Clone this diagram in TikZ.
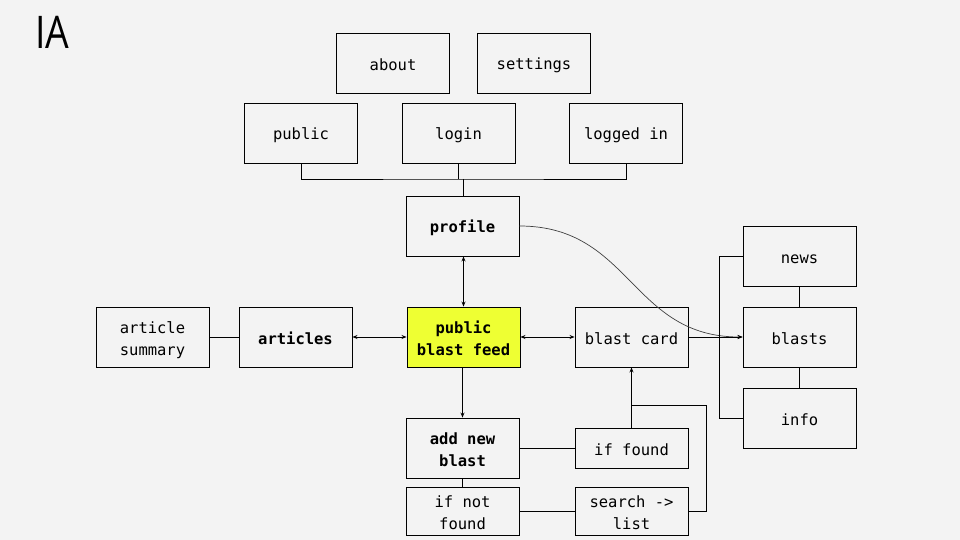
\documentclass[tikz,border=0pt]{standalone}
\usepackage{fontspec}
\setmainfont{DejaVu Sans Mono}
\newfontfamily\titlefont{Open Sans}
\usetikzlibrary{arrows.meta}
\definecolor{bg}{RGB}{243,243,243}
\definecolor{hl}{RGB}{238,255,51}
\newcommand{\twol}[2]{\raisebox{0pt}[\dimexpr\height+3pt\relax][\dimexpr\depth-3pt\relax]{\begin{tabular}{@{}c@{}}#1\\#2\end{tabular}}}
\tikzset{
  mbox/.style={draw=black, line width=0.9pt, minimum width=113pt, minimum height=60pt, inner sep=2pt, font=\fontsize{15.5}{22}\selectfont},
  box/.style={mbox, text height=15.5pt},
  mbbox/.style={mbox, font=\fontsize{15.5}{22}\selectfont\bfseries},
  bbox/.style={box, font=\fontsize{15.5}{22}\selectfont\bfseries},
  sbox/.style={box, minimum height=40pt},
  smbox/.style={mbox, minimum height=40pt},
  conn/.style={line width=0.9pt},
  tip/.style={-{Stealth[length=5pt,width=4pt]}},
  dtip/.style={{Stealth[length=5pt,width=4pt]}-{Stealth[length=5pt,width=4pt]}},
}
\begin{document}
\begin{tikzpicture}[x=1pt,y=-1pt]
\fill[bg] (0,0) rectangle (960,540);
\useasboundingbox (0,0) rectangle (960,540);
\node[anchor=west, inner sep=0, font=\titlefont\fontsize{45}{45}\selectfont] (title) at (35,32.5) {\scalebox{0.83}[1]{IA}};

\node[box] (about) at (393,63) {about};
\node[box] (settings) at (534,63) {settings};
\node[box] (public) at (301,133) {public};
\node[box] (login) at (458.5,133) {login};
\node[box] (loggedin) at (626,133) {logged in};
\node[bbox] (profile) at (462.5,226) {profile};
\node[mbbox, fill=hl] (feed) at (463.5,337) {\twol{public}{blast feed}};
\node[bbox] (articles) at (295.5,337) {articles};
\node[mbox] (summary) at (152.5,337) {\twol{article}{summary}};
\node[box] (card) at (631.5,337) {blast card};
\node[box] (news) at (799.5,256) {news};
\node[box] (blasts) at (799.5,337) {blasts};
\node[box] (info) at (799.5,418) {info};
\node[mbbox] (addnew) at (462.5,448) {\twol{add new}{blast}};
\node[sbox] (found) at (631.5,448) {if found};
\node[smbox] (notfound) at (462.5,511) {\twol{if not}{found}};
\node[smbox] (search) at (631.5,511) {\twol{search ->}{list}};

\coordinate (jn) at (463,179);
\draw[conn] (public.south) |- (jn) -| (loggedin.south);
\draw[conn] (login.south |- public.south) -- (login.south |- jn);
\draw[conn] (jn) -- (jn |- profile.north);

\draw[conn,dtip] (profile.south -| feed.north) -- (feed.north);
\draw[conn,line width=0.7pt,draw=black!75, tip] (profile.east) to[out=0,in=180,looseness=1.15] (blasts.west);
\draw[conn,dtip] (articles.east) -- (feed.west);
\draw[conn,dtip] (feed.east) -- (card.west);
\draw[conn] (summary.east) -- (articles.west);
\draw[conn,tip] (card.east) -- (blasts.west);

\coordinate (br) at (719,256);
\draw[conn] (news.west) -- (br) -- (br |- info.west) -- (info.west);
\draw[conn] (news.south) -- (blasts.north);
\draw[conn] (blasts.south) -- (info.north);

\draw[conn,tip] (feed.south -| addnew.north) -- (addnew.north);
\draw[conn] (addnew.east) -- (found.west);
\draw[conn,tip] (found.north) -- (card.south);
\coordinate (sr) at (706,405);
\draw[conn] (search.east) -| (sr) -- (sr -| found.north);
\draw[conn] (addnew.south) -- (notfound.north);
\draw[conn] (notfound.east) -- (search.west);
\end{tikzpicture}
\end{document}
